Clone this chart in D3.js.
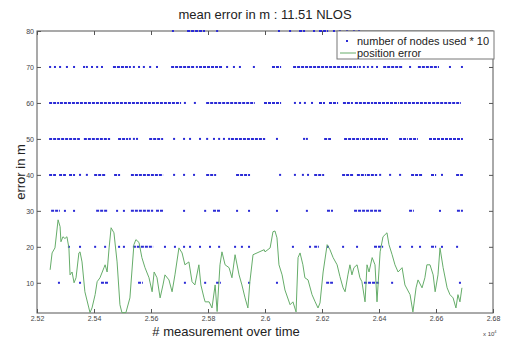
<!DOCTYPE html>
<html>
<head>
<meta charset="utf-8">
<script src="https://cdn.jsdelivr.net/npm/d3@7/dist/d3.min.js"></script>
<style>
  body { margin: 0; background: #fff; }
  svg { display: block; font-family: Arial, "Liberation Sans", sans-serif; }
</style>
</head>
<body>
<div id="chart"></div>
<script>
// x tick values and labels (measurement index, x 10^4)
const xTicks = [25200, 25400, 25600, 25800, 26000, 26200, 26400, 26600, 26800];
const xTickLabels = ["2.52", "2.54", "2.56", "2.58", "2.6", "2.62", "2.64", "2.66", "2.68"];
const yTicks = [10, 20, 30, 40, 50, 60, 70, 80];

// number of nodes used * 10 : single measurements or [start, end] runs
const nodes80 = [25677, [25730, 25786], 25832, 26049, 26088, [26123, 26137], 26172, [26193, 26218], 26242, 26263, 26288, 26312, 26330];
const nodes70 = [25246, 25263, 25281, 25305, 25330, 25365, 25375, 25393, 25411, 25428, [25470, 25526], 25540, 25558, 25575, 25597, 25621,
  [25674, 25751], 25761, [25772, 25849], 25867, 25891, 25912, 25961, [26028, 26053], [26102, 26323], 26333, 26347, 26361, 26376, 26393,
  [26418, 26481], 26509, [26540, 26607], 26649, 26691];
const nodes60 = [[25246, 25274], [25284, 25702], 25719, 25754, [25797, 25961], [26000, 26053], 26105, 26123, 26140, 26165, [26193, 26207],
  [26228, 26253], [26277, 26305], [26319, 26376], [26386, 26467], [26477, 26579], [26590, 26684]];
const nodes50 = [[25246, 25347], [25368, 25453], [25488, 25516], 25526, 25540, 25551, [25597, 25639], 25681, 25716, 25737, 25772, 25797,
  25821, 25839, 25856, 25874, [25884, 25997], 26042, 26137, 26147, [26211, 26228], [26281, 26333], [26344, 26390], [26400, 26428],
  [26474, 26498], [26509, 26533], [26579, 26691]];
const nodes40 = [[25246, 25263], [25281, 25298], [25316, 25330], 25351, 25375, [25404, 25439], [25474, 25488], [25533, 25639], 25681, 25716,
  25751, [25797, 25825], [25902, 25944], 26053, 26105, 26133, 26151, [26176, 26204], [26274, 26309], [26326, 26351], [26361, 26390], 26404,
  26439, 26474, [26516, 26551], [26586, 26597], 26621, [26674, 26691]];
const nodes30 = [[25253, 25277], 25298, 25330, [25411, 25446], 25481, 25505, [25533, 25604], [25621, 25639], 25716, 25790, [25821, 25842],
  25902, 25944, 26042, 26147, [26221, 26235], [26316, 26404], [26509, 26519], 26614, [26677, 26691]];
const nodes20 = [25312, 25351, 25404, 25439, 25488, 25505, [25540, 25604], 25649, 25684, 25716, 25737, 25772, 25807, 25839, 25895, 25919,
  25944, 26098, 26158, [26176, 26186], 26221, 26274, 26323, [26386, 26411], 26474, 26516, 26544, [26586, 26597], 26621, 26674];
const nodes10 = [25277, 25351, [25428, 25446], [25558, 25568], 25719, 25790, [25832, 25842], 25944, 26042, [26218, 26235], [26351, 26397],
  26446, 26684];
const nodeLevels = [10, 20, 30, 40, 50, 60, 70, 80];
const nodeSeries = [nodes10, nodes20, nodes30, nodes40, nodes50, nodes60, nodes70, nodes80];

// position error (m)
const errX = [25246, 25253, 25263, 25274, 25281, 25284, 25291, 25298, 25305, 25312, 25316, 25323, 25330, 25337, 25347, 25351, 25358,
  25368, 25382, 25386, 25393, 25404, 25411, 25421, 25435, 25439, 25446, 25453, 25460, 25470, 25481, 25491, 25498, 25512, 25526, 25540,
  25547, 25558, 25568, 25579, 25593, 25604, 25611, 25621, 25632, 25642, 25649, 25663, 25674, 25684, 25698, 25709, 25719, 25733, 25744,
  25754, 25768, 25775, 25786, 25790, 25804, 25814, 25825, 25832, 25842, 25849, 25860, 25874, 25884, 25895, 25909, 25919, 25930, 25940,
  25947, 25958, 25972, 25997, 26000, 26018, 26028, 26035, 26042, 26049, 26060, 26070, 26088, 26098, 26109, 26116, 26123, 26133, 26140,
  26151, 26165, 26176, 26186, 26193, 26204, 26218, 26228, 26239, 26253, 26263, 26274, 26281, 26291, 26298, 26305, 26312, 26323, 26333,
  26340, 26351, 26358, 26365, 26376, 26386, 26393, 26404, 26414, 26428, 26435, 26446, 26456, 26467, 26481, 26491, 26509, 26519, 26530,
  26537, 26551, 26561, 26568, 26579, 26590, 26597, 26607, 26614, 26625, 26639, 26649, 26660, 26670, 26677, 26684, 26691];
const errY = [13.6, 18.3, 19.7, 27.5, 25.6, 21.4, 22.8, 22.3, 22.8, 19.7, 12.2, 13.0, 10.0, 11.4, 18.3, 18.6, 15.8,
  7.5, 3.0, 1.7, 3.0, 6.7, 10.3, 11.4, 14.2, 15.0, 13.0, 19.7, 25.3, 23.9, 15.8, 3.9, 1.7, 1.7, 5.8, 20.6,
  22.0, 21.2, 17.0, 14.2, 11.4, 7.5, 13.0, 11.4, 5.8, 9.4, 12.2, 10.8, 7.5, 12.2, 19.7, 18.3, 15.0, 15.8, 10.3,
  9.4, 15.0, 9.4, 5.8, 4.7, 4.7, 3.0, 9.4, 2.0, 15.0, 18.6, 15.0, 14.2, 11.4, 17.8, 12.2, 9.4, 5.8, 3.0,
  10.3, 17.8, 18.3, 19.2, 18.6, 19.7, 24.2, 24.4, 22.5, 15.0, 12.2, 8.0, 3.9, 4.7, 1.9, 17.0, 18.3, 15.0, 11.4,
  10.8, 6.7, 4.7, 3.0, 4.4, 13.0, 20.6, 19.2, 17.0, 15.0, 11.7, 8.6, 7.5, 12.2, 15.0, 12.2, 14.2, 15.0, 11.4,
  10.3, 4.7, 15.0, 13.0, 17.0, 15.0, 4.7, 18.6, 22.8, 23.9, 20.6, 17.8, 15.0, 13.0, 14.2, 9.4, 6.7, 1.9, 8.6,
  10.8, 8.6, 11.4, 15.0, 15.0, 12.2, 7.5, 12.2, 19.7, 14.2, 8.6, 6.7, 5.8, 3.0, 6.7, 4.7, 8.6];

const width = 505, height = 341;
const margin = { top: 31, right: 12, bottom: 28, left: 37 };

const svg = d3.select("#chart").append("svg")
  .attr("width", width)
  .attr("height", height);

const x = d3.scaleLinear()
  .domain([25200, 26800])
  .range([margin.left, width - margin.right]);

const y = d3.scaleLinear()
  .domain([1.6, 80])
  .range([height - margin.bottom, margin.top]);

const axisColor = "#555";
const dotColor = "#2b2bd6";
const lineColor = "#66ad6a";

// box around plot
svg.append("rect")
  .attr("x", x(25200)).attr("y", y(80))
  .attr("width", x(26800) - x(25200))
  .attr("height", y(1.6) - y(80))
  .attr("fill", "#fff")
  .attr("stroke", axisColor)
  .attr("stroke-width", 1);

// axes with inward ticks (all four sides)
function styleAxis(g) {
  g.select(".domain").remove();
  g.selectAll(".tick line").attr("stroke", axisColor);
  g.selectAll(".tick text").attr("fill", "#444").style("font-size", "7px");
}

svg.append("g")
  .attr("transform", "translate(0," + y(1.6) + ")")
  .call(d3.axisBottom(x).tickValues(xTicks).tickSizeInner(-4).tickPadding(3)
    .tickFormat((d, i) => xTickLabels[i]))
  .call(styleAxis);

svg.append("g")
  .attr("transform", "translate(0," + y(80) + ")")
  .call(d3.axisTop(x).tickValues(xTicks).tickSizeInner(-4).tickFormat(""))
  .call(styleAxis);

svg.append("g")
  .attr("transform", "translate(" + x(25200) + ",0)")
  .call(d3.axisLeft(y).tickValues(yTicks).tickSizeInner(-4).tickPadding(3))
  .call(styleAxis);

svg.append("g")
  .attr("transform", "translate(" + x(26800) + ",0)")
  .call(d3.axisRight(y).tickValues(yTicks).tickSizeInner(-4).tickFormat(""))
  .call(styleAxis);

// node count markers
const dots = svg.append("g");
nodeSeries.forEach((series, i) => {
  const level = nodeLevels[i];
  series.forEach(d => {
    if (Array.isArray(d)) {
      dots.append("line")
        .attr("x1", x(d[0]) - 1).attr("x2", x(d[1]) + 1)
        .attr("y1", y(level)).attr("y2", y(level))
        .attr("stroke", dotColor)
        .attr("stroke-width", 2)
        .attr("stroke-dasharray", "3,1");
    } else {
      dots.append("rect")
        .attr("x", x(d) - 1).attr("y", y(level) - 1)
        .attr("width", 2).attr("height", 2)
        .attr("fill", dotColor);
    }
  });
});

// position error line
const errData = errX.map((v, i) => ({ m: v, e: errY[i] }));
svg.append("path")
  .datum(errData)
  .attr("fill", "none")
  .attr("stroke", lineColor)
  .attr("stroke-width", 1)
  .attr("d", d3.line().x(d => x(d.m)).y(d => y(d.e)));

// title and labels
svg.append("text")
  .attr("x", (x(25200) + x(26800)) / 2).attr("y", 19)
  .attr("text-anchor", "middle")
  .style("font-size", "13px")
  .attr("fill", "#222")
  .text("mean error in m : 11.51 NLOS");

svg.append("text")
  .attr("x", 226).attr("y", 336)
  .attr("text-anchor", "middle")
  .style("font-size", "13px")
  .attr("fill", "#222")
  .text("# measurement over time");

svg.append("text")
  .attr("transform", "translate(25," + (y(1.6) + y(80)) / 2 + ")rotate(-90)")
  .attr("text-anchor", "middle")
  .style("font-size", "13px")
  .attr("fill", "#222")
  .text("error in m");

const expo = svg.append("text")
  .attr("x", 483).attr("y", 336)
  .style("font-size", "6px")
  .attr("fill", "#444");
expo.append("tspan").text("x 10");
expo.append("tspan").attr("dy", -3).style("font-size", "4px").text("4");

// legend
const legend = svg.append("g").attr("transform", "translate(337,31)");
legend.append("rect")
  .attr("width", 157).attr("height", 28)
  .attr("fill", "#fff")
  .attr("stroke", "#777");
legend.append("rect")
  .attr("x", 9).attr("y", 9).attr("width", 2).attr("height", 2)
  .attr("fill", dotColor);
legend.append("text")
  .attr("x", 20).attr("y", 14)
  .style("font-size", "11px").attr("fill", "#222")
  .text("number of nodes used * 10");
legend.append("line")
  .attr("x1", 3).attr("x2", 19).attr("y1", 22).attr("y2", 22)
  .attr("stroke", lineColor);
legend.append("text")
  .attr("x", 20).attr("y", 26)
  .style("font-size", "11px").attr("fill", "#222")
  .text("position error");
</script>
</body>
</html>
